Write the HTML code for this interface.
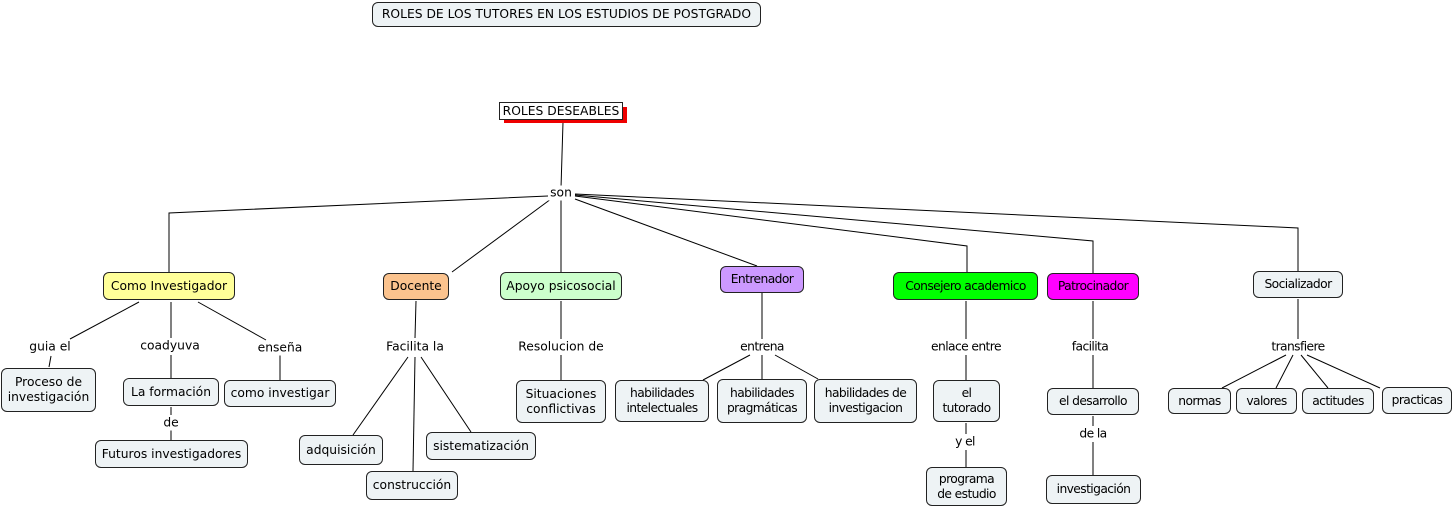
<!DOCTYPE html>
<html><head><meta charset="utf-8"><style>
body{margin:0;width:1453px;height:506px;background:#fff;position:relative;overflow:hidden;font-family:"DejaVu Sans","Liberation Sans",sans-serif;font-size:12.3px;color:#000}
.n{position:absolute;box-sizing:border-box;border:1px solid #222;border-radius:6px;background:#eef3f5;display:flex;align-items:center;justify-content:center;text-align:center;line-height:15px;white-space:nowrap}
.l{position:absolute;transform:translate(-50%,-50%);background:#fff;padding:0 2px;white-space:nowrap;line-height:15px}
.c{letter-spacing:-0.6px}
svg{position:absolute;left:0;top:0}
</style></head><body>
<svg width="1453" height="506" stroke="#000" stroke-width="1" fill="none">
<line x1="563" y1="122" x2="561" y2="188"/>
<polyline points="548,196 169,213 169,272"/>
<line x1="551" y1="199" x2="452" y2="272"/>
<line x1="561" y1="198" x2="561" y2="272"/>
<line x1="575" y1="199" x2="757" y2="266"/>
<polyline points="575,196 967,246 967,272"/>
<polyline points="575,195 1093,241 1093,273"/>
<polyline points="575,194 1298,228 1298,271"/>
<line x1="139" y1="302" x2="70" y2="339"/>
<line x1="51" y1="356" x2="49" y2="367"/>
<line x1="171" y1="302" x2="171" y2="338"/>
<line x1="171" y1="355" x2="171" y2="378"/>
<line x1="198" y1="302" x2="266" y2="340"/>
<line x1="280" y1="355" x2="280" y2="380"/>
<line x1="171" y1="407" x2="171" y2="415"/>
<line x1="171" y1="430" x2="171" y2="440"/>
<line x1="416" y1="301" x2="415" y2="338"/>
<line x1="408" y1="357" x2="353" y2="435"/>
<line x1="415" y1="357" x2="413" y2="471"/>
<line x1="421" y1="357" x2="471" y2="432"/>
<line x1="561" y1="301" x2="561" y2="339"/>
<line x1="561" y1="355" x2="561" y2="380"/>
<line x1="762" y1="293" x2="762" y2="339"/>
<line x1="750" y1="355" x2="703" y2="380"/>
<line x1="762" y1="355" x2="762" y2="379"/>
<line x1="775" y1="355" x2="818" y2="379"/>
<line x1="966" y1="301" x2="966" y2="339"/>
<line x1="966" y1="355" x2="966" y2="380"/>
<line x1="966" y1="423" x2="966" y2="434"/>
<line x1="966" y1="450" x2="966" y2="467"/>
<line x1="1093" y1="301" x2="1093" y2="339"/>
<line x1="1093" y1="355" x2="1093" y2="388"/>
<line x1="1093" y1="416" x2="1093" y2="426"/>
<line x1="1093" y1="442" x2="1093" y2="475"/>
<line x1="1298" y1="299" x2="1298" y2="339"/>
<line x1="1286" y1="355" x2="1222" y2="388"/>
<line x1="1293" y1="355" x2="1276" y2="388"/>
<line x1="1301" y1="355" x2="1328" y2="388"/>
<line x1="1307" y1="355" x2="1380" y2="388"/>
</svg>

<div class="n" style="left:372px;top:2px;width:389px;height:25px">ROLES DE LOS TUTORES EN LOS ESTUDIOS DE POSTGRADO</div>
<div style="position:absolute;left:504px;top:107px;width:123px;height:16px;background:#e00"></div>
<div class="n" style="left:499px;top:102px;width:124px;height:18px;border-radius:0;background:#fff">ROLES DESEABLES</div>
<div class="l" style="left:561px;top:193px">son</div>

<div class="n" style="left:103px;top:272px;width:132px;height:28px;background:#ffff99">Como Investigador</div>
<div class="n" style="left:383px;top:273px;width:66px;height:27px;background:#fbc38e">Docente</div>
<div class="n" style="left:500px;top:272px;width:122px;height:28px;background:#ccffcc">Apoyo psicosocial</div>
<div class="n c" style="left:720px;top:266px;width:84px;height:27px;background:#cc99ff">Entrenador</div>
<div class="n c" style="left:893px;top:272px;width:145px;height:28px;background:#00ff00">Consejero academico</div>
<div class="n c" style="left:1047px;top:273px;width:92px;height:27px;background:#ff00ff">Patrocinador</div>
<div class="n c" style="left:1253px;top:271px;width:90px;height:27px">Socializador</div>

<div class="l" style="left:50px;top:347px">guia el</div>
<div class="l" style="left:170px;top:346px">coadyuva</div>
<div class="l" style="left:280px;top:348px">enseña</div>
<div class="l" style="left:415px;top:347px">Facilita la</div>
<div class="l" style="left:561px;top:347px">Resolucion de</div>
<div class="l c" style="left:762px;top:347px">entrena</div>
<div class="l c" style="left:966px;top:347px">enlace entre</div>
<div class="l c" style="left:1090px;top:347px">facilita</div>
<div class="l c" style="left:1298px;top:347px">transfiere</div>
<div class="l" style="left:171px;top:423px">de</div>
<div class="l c" style="left:965px;top:442px">y el</div>
<div class="l c" style="left:1093px;top:434px">de la</div>

<div class="n" style="left:1px;top:368px;width:95px;height:44px">Proceso de<br>investigación</div>
<div class="n" style="left:123px;top:378px;width:96px;height:28px">La formación</div>
<div class="n" style="left:224px;top:380px;width:112px;height:27px">como investigar</div>
<div class="n" style="left:95px;top:440px;width:153px;height:28px">Futuros investigadores</div>
<div class="n" style="left:299px;top:435px;width:84px;height:30px">adquisición</div>
<div class="n" style="left:366px;top:471px;width:92px;height:29px">construcción</div>
<div class="n" style="left:426px;top:432px;width:110px;height:28px">sistematización</div>
<div class="n" style="left:516px;top:380px;width:90px;height:43px">Situaciones<br>conflictivas</div>
<div class="n c" style="left:615px;top:380px;width:94px;height:42px">habilidades<br>intelectuales</div>
<div class="n c" style="left:717px;top:379px;width:90px;height:44px">habilidades<br>pragmáticas</div>
<div class="n c" style="left:814px;top:379px;width:103px;height:44px">habilidades de<br>investigacion</div>
<div class="n c" style="left:933px;top:380px;width:67px;height:42px">el<br>tutorado</div>
<div class="n c" style="left:926px;top:467px;width:81px;height:39px">programa<br>de estudio</div>
<div class="n c" style="left:1047px;top:388px;width:92px;height:27px">el desarrollo</div>
<div class="n c" style="left:1046px;top:475px;width:95px;height:29px">investigación</div>
<div class="n c" style="left:1168px;top:388px;width:63px;height:26px">normas</div>
<div class="n c" style="left:1236px;top:388px;width:61px;height:26px">valores</div>
<div class="n c" style="left:1302px;top:388px;width:72px;height:26px">actitudes</div>
<div class="n c" style="left:1382px;top:387px;width:70px;height:27px">practicas</div>
</body></html>
